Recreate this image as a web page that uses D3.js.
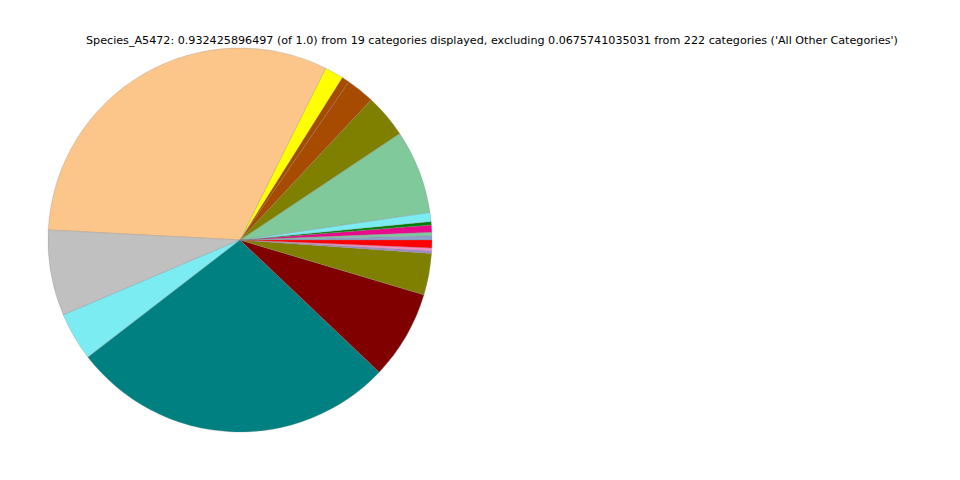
<!DOCTYPE html>
<html>
<head>
<meta charset="utf-8">
<script src="https://cdn.jsdelivr.net/npm/d3@7"></script>
<style>
  html, body { margin: 0; padding: 0; background: #fff; }
  svg { display: block; }
</style>
</head>
<body>
<svg id="chart" width="960" height="480"></svg>
<script>
const titleText = "Species_A5472: 0.932425896497 (of 1.0) from 19 categories displayed, excluding 0.0675741035031 from 222 categories ('All Other Categories')";

const categories = [
  "Cat01", "Cat02", "Cat03", "Cat04", "Cat05", "Cat06", "Cat07", "Cat08", "Cat09", "Cat10",
  "Cat11", "Cat12", "Cat13", "Cat14", "Cat15", "Cat16", "Cat17", "Cat18", "Cat19"
];
const values = [
  0.00337, 0.00259, 0.00570, 0.00259, 0.00725, 0.06579, 0.03419, 0.02227, 0.00596, 0.01476,
  0.29397, 0.06734, 0.03782, 0.25616, 0.06967, 0.03264, 0.00207, 0.00207, 0.00622
];
const colors = [
  "#8da0cb", "#80c8a0", "#e8098c", "#007f00", "#7aecf2", "#80c99b", "#808000", "#a64b00", "#a64b00", "#ffff00",
  "#fcc68a", "#c0c0c0", "#7aecf2", "#008080", "#800000", "#808000", "#a08cc8", "#ff8ccc", "#ff0000"
];

const svg = d3.select("#chart");
const cx = 240, cy = 240, r = 192;

svg.append("text")
  .attr("x", 492)
  .attr("y", 44)
  .attr("text-anchor", "middle")
  .attr("font-family", "DejaVu Sans, sans-serif")
  .attr("font-size", "11.15px")
  .attr("fill", "#000")
  .text(titleText);

const data = categories.map((c, i) => ({ name: c, value: values[i], color: colors[i] }));

// matplotlib style: start at east (3 o'clock), go counterclockwise
const pie = d3.pie()
  .value(d => d.value)
  .sort(null)
  .startAngle(Math.PI / 2)
  .endAngle(Math.PI / 2 - 2 * Math.PI);

const arc = d3.arc().innerRadius(0).outerRadius(r);

svg.append("g")
  .attr("transform", `translate(${cx},${cy})`)
  .selectAll("path")
  .data(pie(data))
  .join("path")
  .attr("d", arc)
  .attr("fill", d => d.data.color)
  .attr("stroke", "#888")
  .attr("stroke-width", 0.3);
</script>
</body>
</html>
